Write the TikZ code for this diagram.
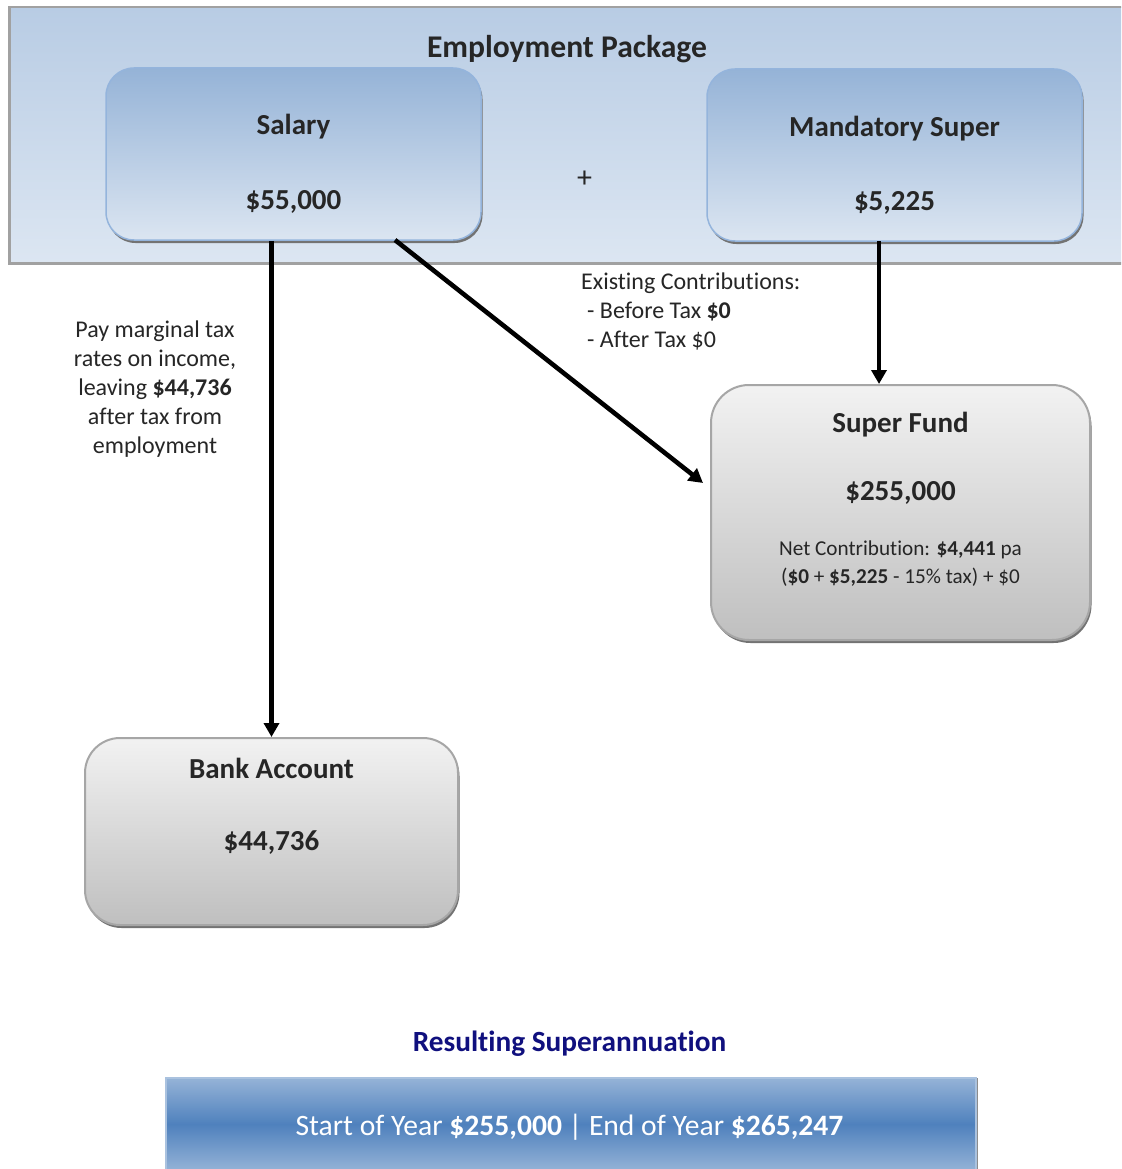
\documentclass[tikz,border=0pt]{standalone}
\usepackage{fontspec}
\setmainfont{Carlito}[Ligatures=NoCommon]
\usetikzlibrary{arrows.meta,shadows}
\definecolor{txt}{HTML}{262626}
\definecolor{pnlTop}{HTML}{B8CCE4}
\definecolor{pnlBot}{HTML}{DCE6F2}
\definecolor{bluTop}{HTML}{95B3D7}
\definecolor{bluBot}{HTML}{DBE5F1}
\definecolor{bluEdge}{HTML}{94B4DC}
\definecolor{gryTop}{HTML}{F2F2F2}
\definecolor{gryBot}{HTML}{BFBFBF}
\definecolor{gryEdge}{HTML}{A6A6A6}
\definecolor{barMid}{HTML}{4F81BD}
\definecolor{barTop}{HTML}{95B3D7}
\definecolor{navyT}{HTML}{10107E}
\tikzset{
  boxshadow/.style={drop shadow={shadow xshift=1.5pt,shadow yshift=-3pt,fill=black!55,opacity=1}},
  bluebox/.style={rounded corners=28pt,top color=bluTop,bottom color=bluBot,draw=bluEdge,line width=1.5pt,boxshadow,minimum width=375pt,minimum height=172pt,inner sep=0pt},
  graybox/.style={rounded corners=38pt,top color=gryTop,bottom color=gryBot,draw=gryEdge,line width=2pt,boxshadow,inner sep=0pt},
  big/.style={font=\fontsize{29}{34}\selectfont\bfseries,text=txt,inner sep=0pt,anchor=base},
  small/.style={font=\fontsize{24}{29}\selectfont,text=txt,inner sep=0pt},
  flow/.style={line width=4.6pt,-{Triangle[length=14pt,width=15pt]}}
}
\begin{document}
\begin{tikzpicture}[x=1pt,y=-1pt]
\clip (0,0) rectangle (1121,1169);
\fill[white] (0,0) rectangle (1121,1169);
% employment package panel
\node[anchor=north west,minimum width=1125pt,minimum height=256pt,top color=pnlTop,bottom color=pnlBot,draw=black!37,line width=2.5pt,inner sep=0pt] (pkg) at (8,6) {};
\node[big,font=\fontsize{31.6}{36}\selectfont\bfseries] (pkgT) at (567,58) {Employment Package};
% salary and mandatory super
\node[bluebox] (salary) at (293.5,154) {};
\node[big] (salT) at (293.5,135) {Salary};
\node[big] (salV) at (293.5,209) {\$55,000};
\node[bluebox] (mand) at (894.5,155) {};
\node[big] (mandT) at (894.5,137) {Mandatory Super};
\node[big] (mandV) at (894.5,210) {\$5,225};
\node[small,anchor=base,font=\fontsize{30}{34}\selectfont] (plus) at (584.5,188) {+};
% super fund
\node[graybox,minimum width=379pt,minimum height=255pt] (super) at (900.5,512.5) {};
\node[big] (supT) at (900.5,432) {Super Fund};
\node[big] (supV) at (900.5,500) {\$255,000};
\node[small,anchor=base,font=\fontsize{21.2}{28}\selectfont] (supN1) at (900.5,555) {Net Contribution: \textbf{\$4,441} pa};
\node[small,anchor=base,font=\fontsize{21.2}{28}\selectfont] (supN2) at (900.5,583) {(\textbf{\$0} + \textbf{\$5,225} - 15\% tax) + \$0};
% bank account
\node[graybox,rounded corners=35pt,minimum width=373pt,minimum height=187pt] (bank) at (271.5,831.5) {};
\node[big] (bankT) at (271.5,778) {Bank Account};
\node[big] (bankV) at (271.5,850) {\$44,736};
% labels
\node[small,anchor=base] (lab1) at (155,337) {Pay marginal tax};
\node[small,anchor=base] (lab2) at (155,366) {rates on income,};
\node[small,anchor=base] (lab3) at (155,395) {leaving \textbf{\$44,736}};
\node[small,anchor=base] (lab4) at (155,424) {after tax from};
\node[small,anchor=base] (lab5) at (155,453) {employment};
\node[small,anchor=base west] (ex1) at (581,289) {Existing Contributions:};
\node[small,anchor=base west] (ex2) at (587,318) {- Before Tax \textbf{\$0}};
\node[small,anchor=base west] (ex3) at (587,347) {- After Tax \$0};
% connectors
\coordinate (diagS) at (395,240);
\coordinate (diagE) at (703,483);
\coordinate (mandS) at (879,241);
\coordinate (supN) at (879,384);
\draw[flow] (bank.north |- salary.south) -- (bank.north);
\draw[flow] (diagS) -- (diagE);
\draw[flow] (mandS) -- (supN);
% resulting superannuation
\node[big,font=\fontsize{29.3}{34}\selectfont\bfseries,text=navyT] (resT) at (569.5,1051) {Resulting Superannuation};
\node[anchor=north west,minimum width=810pt,minimum height=93pt,inner sep=0pt,draw=barTop!80,line width=1.5pt,top color=barTop,bottom color=barTop,middle color=barMid,drop shadow={shadow xshift=2pt,shadow yshift=0pt,fill=black!45,opacity=1}] (bar) at (165,1077) {};
\node[big,font=\fontsize{29.6}{34}\selectfont,text=white] (barT) at (569.5,1135) {Start of Year \textbf{\$255,000} | End of Year \textbf{\$265,247}};
\end{tikzpicture}
\end{document}
